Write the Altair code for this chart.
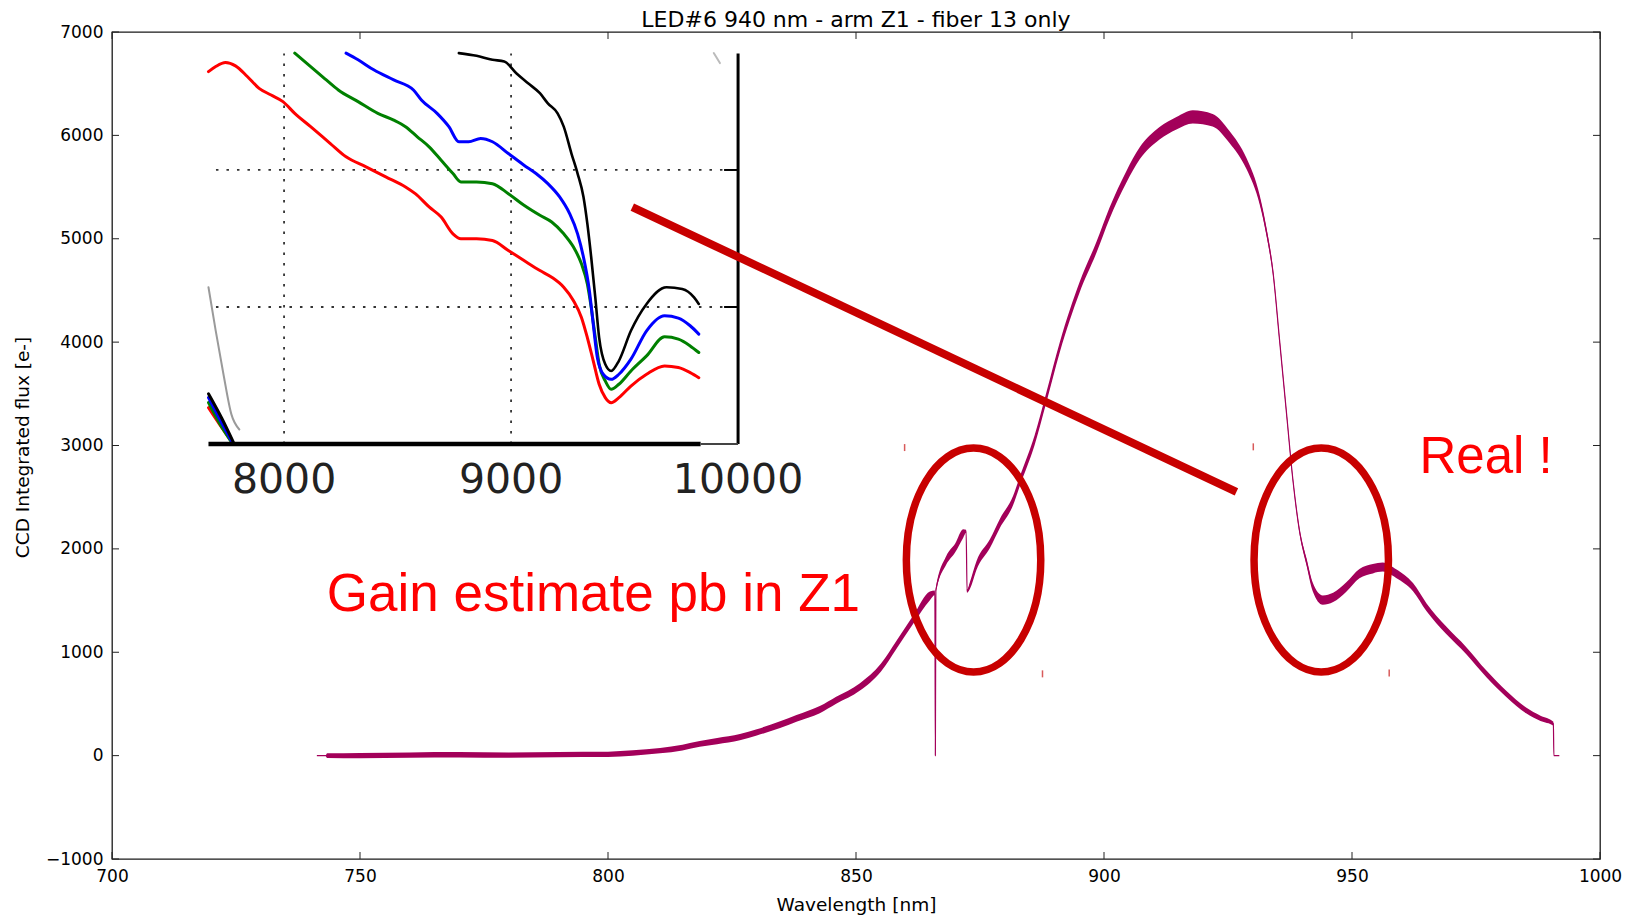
import altair as alt
import pandas as pd

TITLE = "LED#6 940 nm - arm Z1 - fiber 13 only"
X_TITLE = "Wavelength [nm]"
Y_TITLE = "CCD Integrated flux [e-]"

# ---------------- main spectrum ----------------
spec_nm = [741.3, 743.0, 743.4, 750, 760, 770, 780, 790, 800, 805,
           810.5, 815, 818.5, 822, 826.6, 830, 834.7, 838, 842.7, 846,
           850.8, 855, 858.2, 861.6, 864.9, 865.9, 866.0, 866.1, 868.2, 870,
           871.6, 872.2, 872.4, 873, 874.3, 877, 879, 881.7, 883, 886,
           888.4, 891.1, 895.1, 898.5, 901.1, 904.5, 907.2, 911.2, 914.6, 917.9,
           921.9, 925.3, 928.7, 931.4, 932.7, 934.1, 935.4, 936.8, 938.1, 939.5,
           940.8, 942.1, 944.1, 946.2, 948.8, 951.5, 954.2, 956.2, 958.9, 962.3,
           965, 969, 973, 977.1, 981.1, 985.1, 988, 990.6, 990.7, 991.8]
spec_flux = [0, 0, 0, 0, 5, 8, 5, 10, 12, 25,
             48, 78, 113, 140, 178, 225, 300, 360, 445, 535,
             665, 850, 1075, 1320, 1545, 1575, 0, 1600, 1890, 2010,
             2148, 2170, 1590, 1650, 1840, 2050, 2246, 2471, 2650, 3050,
             3469, 3953, 4533, 4920, 5246, 5598, 5826, 6020, 6117, 6179,
             6147, 5985, 5730, 5373, 5082, 4666, 4017, 3311, 2662, 2150,
             1880, 1630, 1505, 1530, 1629, 1760, 1808, 1824, 1760, 1630,
             1437, 1212, 1018, 791, 598, 437, 360, 308, 0, 0]
spec_noise = [0, 0, 22, 26, 26, 26, 26, 26, 26, 26,
              26, 28, 28, 30, 30, 30, 32, 32, 34, 34,
              36, 38, 38, 40, 42, 22, 0, 22, 42, 42,
              42, 15, 15, 34, 42, 42, 44, 45, 45, 47,
              49, 49, 51, 53, 54, 56, 58, 60, 60, 64,
              60, 58, 53, 45, 38, 30, 22, 22, 22, 26,
              34, 42, 45, 45, 45, 45, 45, 44, 42, 39,
              38, 36, 34, 32, 30, 28, 26, 19, 0, 0]

x_ticks = [700, 750, 800, 850, 900, 950, 1000]
y_ticks = [-1000, 0, 1000, 2000, 3000, 4000, 5000, 6000, 7000]

# ---------------- inset (its own units: Angstrom, arbitrary flux) ----------------
red_aa = [7667, 7699, 7742, 7786, 7838, 7890, 7943, 7995, 8047, 8117,
          8204, 8273, 8361, 8448, 8535, 8578, 8639, 8692, 8744, 8779,
          8848, 8918, 8988, 9057, 9127, 9179, 9232, 9275, 9310, 9336,
          9362, 9388, 9415, 9441, 9475, 9528, 9597, 9676, 9737, 9789, 9827]
red_v = [2.718, 2.755, 2.784, 2.760, 2.682, 2.596, 2.547, 2.499, 2.413, 2.316,
         2.193, 2.096, 2.023, 1.949, 1.876, 1.827, 1.730, 1.656, 1.534, 1.498,
         1.498, 1.485, 1.412, 1.339, 1.266, 1.217, 1.144, 1.046, 0.924, 0.777,
         0.607, 0.436, 0.338, 0.301, 0.338, 0.423, 0.509, 0.570, 0.558, 0.521, 0.484]
green_aa = [8047, 8117, 8186, 8239, 8326, 8413, 8483, 8535, 8587, 8639,
            8692, 8744, 8779, 8848, 8918, 8988, 9057, 9127, 9179, 9232,
            9275, 9310, 9336, 9353, 9371, 9388, 9415, 9441, 9475, 9528,
            9597, 9676, 9737, 9789, 9827]
green_v = [2.853, 2.755, 2.657, 2.584, 2.499, 2.413, 2.364, 2.316, 2.242, 2.169,
           2.071, 1.974, 1.913, 1.913, 1.900, 1.827, 1.742, 1.669, 1.620, 1.534,
           1.437, 1.315, 1.168, 0.997, 0.777, 0.582, 0.460, 0.399, 0.436, 0.533,
           0.643, 0.782, 0.765, 0.716, 0.668]
blue_aa = [8273, 8326, 8395, 8483, 8570, 8605, 8674, 8726, 8770, 8813,
           8866, 8918, 8988, 9057, 9110, 9162, 9214, 9258, 9293, 9319,
           9345, 9362, 9380, 9406, 9441, 9475, 9528, 9597, 9676, 9737,
           9789, 9827]
blue_v = [2.853, 2.804, 2.731, 2.657, 2.584, 2.511, 2.413, 2.316, 2.206, 2.206,
          2.230, 2.206, 2.120, 2.035, 1.974, 1.900, 1.803, 1.681, 1.534, 1.363,
          1.119, 0.875, 0.631, 0.509, 0.472, 0.509, 0.619, 0.826, 0.936, 0.919,
          0.863, 0.802]
black_aa = [8770, 8848, 8918, 8970, 9023, 9075, 9127, 9162, 9205, 9232,
            9266, 9293, 9319, 9336, 9353, 9371, 9388, 9415, 9441, 9475,
            9528, 9597, 9685, 9754, 9806, 9827]
black_v = [2.853, 2.833, 2.804, 2.792, 2.706, 2.633, 2.560, 2.486, 2.413, 2.316,
           2.120, 1.974, 1.803, 1.608, 1.363, 1.070, 0.777, 0.582, 0.533, 0.607,
           0.826, 1.022, 1.144, 1.131, 1.070, 1.022]
grey_aa = [7667, 7699, 7733, 7768, 7803]
grey_v = [1.144, 0.826, 0.509, 0.216, 0.106]
grey2_aa = [9893, 9920]
grey2_v = [2.853, 2.78]
stub_black_aa = [7667, 7725, 7777]
stub_black_v = [0.367, 0.19, 0.012]
stub_blue_aa = [7667, 7720, 7772]
stub_blue_v = [0.338, 0.17, 0.01]
stub_green_aa = [7667, 7716, 7770]
stub_green_v = [0.302, 0.15, 0.01]
stub_red_aa = [7667, 7716, 7768]
stub_red_v = [0.265, 0.143, 0.021]

inset_labels = [8000, 9000, 10000]
inset_grid_aa = [8000, 9000]
inset_grid_v = [1, 2]
inset_left, inset_right, inset_top = 7667, 10000, 2.85
inset_axis_break = 9835

# ---------------- annotations ----------------
arrow_nm = [804.9, 926.7]
arrow_flux = [5307, 2551]
ellipse_nm = [873.7, 943.8]
ellipse_flux = [1892, 1892]
mark_nm = [859.8, 930.1, 887.6, 957.5]
mark_flux = [2980, 2987, 791, 800]
note_text = ["Gain estimate pb in Z1", "Real !"]
note_nm = [743.3, 963.6]
note_flux = [1398, 2730]
note_size = [53, 51]

# ---------------- styling ----------------
W, H = 1488, 827
FONT = "DejaVu Sans"
SPEC = "#a3005a"
DARKRED = "#c80000"
TICK = "#222222"
ELLIPSE = "M -0.6 0 A 0.6 1 0 1 0 0.6 0 A 0.6 1 0 1 0 -0.6 0 Z"

mx_scale = alt.Scale(domain=[700, 1000], nice=False, zero=False)
my_scale = alt.Scale(domain=[-1000, 7000], nice=False, zero=False)

x_axis = alt.Axis(values=x_ticks, format="d", ticks=False, domain=False, grid=False,
                  labelFont=FONT, labelFontSize=17, labelColor="black", labelPadding=9,
                  labelFlush=False, labelOverlap=False,
                  titleFont=FONT, titleFontSize=18.5, titleFontWeight="normal",
                  titleColor="black", titleX=W / 2, titleY=45,
                  titleAlign="center", titleBaseline="middle")
y_axis = alt.Axis(values=y_ticks, format="d", ticks=False, domain=False, grid=False,
                  labelFont=FONT, labelFontSize=17, labelColor="black", labelPadding=9,
                  labelFlush=False, labelOverlap=False,
                  titleFont=FONT, titleFontSize=18.5, titleFontWeight="normal",
                  titleColor="black", titleX=-90, titleY=415, titleAngle=270,
                  titleAlign="center", titleBaseline="middle")


def mx(f):
    return alt.X(f, scale=mx_scale, axis=x_axis, title=X_TITLE)


def my(f):
    return alt.Y(f, scale=my_scale, axis=y_axis, title=Y_TITLE)


spec_df = pd.DataFrame({"nm": spec_nm, "flux": spec_flux, "noise": spec_noise})

band = alt.Chart(spec_df).transform_calculate(
    lo="datum.flux - datum.noise", hi="datum.flux + datum.noise"
).mark_area(color=SPEC, opacity=1, interpolate="monotone").encode(
    x=mx("nm:Q"), y=my("lo:Q"), y2=alt.Y2("hi:Q"))
line = alt.Chart(spec_df).mark_line(color=SPEC, strokeWidth=1.2, interpolate="monotone").encode(
    x=mx("nm:Q"), y=my("flux:Q"))

xt = pd.DataFrame({"t": x_ticks})
yt = pd.DataFrame({"t": y_ticks})
tb = alt.Chart(xt).mark_rule(color=TICK, strokeWidth=1).encode(
    x=mx("t:Q"), y=alt.value(H), y2=alt.value(H - 7))
tt = alt.Chart(xt).mark_rule(color=TICK, strokeWidth=1).encode(
    x=mx("t:Q"), y=alt.value(0), y2=alt.value(7))
tl = alt.Chart(yt).mark_rule(color=TICK, strokeWidth=1).encode(
    y=my("t:Q"), x=alt.value(0), x2=alt.value(7))
tr = alt.Chart(yt).mark_rule(color=TICK, strokeWidth=1).encode(
    y=my("t:Q"), x=alt.value(W), x2=alt.value(W - 7))

main = alt.layer(band, line, tb, tt, tl, tr)

# ---------------- inset layer ----------------
isx = alt.Scale(domain=[7242, 13797], nice=False, zero=False)
isy = alt.Scale(domain=[-3.029, 3.007], nice=False, zero=False)


def ix(f):
    return alt.X(f, scale=isx, axis=None)


def iy(f):
    return alt.Y(f, scale=isy, axis=None)


segments = [
    ("grey", grey_aa, grey_v, "#9a9a9a", 2.0),
    ("grey2", grey2_aa, grey2_v, "#bbbbbb", 2.0),
    ("red", red_aa, red_v, "#ff0000", 3.0),
    ("green", green_aa, green_v, "#008000", 3.0),
    ("blue", blue_aa, blue_v, "#0000ff", 3.0),
    ("black", black_aa, black_v, "#000000", 2.6),
    ("sred", stub_red_aa, stub_red_v, "#ff0000", 3.0),
    ("sgreen", stub_green_aa, stub_green_v, "#008000", 3.0),
    ("sblue", stub_blue_aa, stub_blue_v, "#0000ff", 3.0),
    ("sblack", stub_black_aa, stub_black_v, "#000000", 3.0),
]
rows = []
for name, xs, vs, col, w in segments:
    for i, (a, v) in enumerate(zip(xs, vs)):
        rows.append({"seg": name, "aa": a, "v": v, "col": col, "w": w, "i": i})
curves_df = pd.DataFrame(rows)

gv = alt.Chart(pd.DataFrame({"aa": inset_grid_aa, "lo": 0, "hi": inset_top})).mark_rule(
    color="#333333", strokeWidth=1.8, strokeDash=[2.5, 8]).encode(
    x=ix("aa:Q"), y=iy("lo:Q"), y2=alt.Y2("hi:Q"))
gh = alt.Chart(pd.DataFrame({"v": inset_grid_v, "a1": inset_left + 33, "a2": inset_right})).mark_rule(
    color="#333333", strokeWidth=1.8, strokeDash=[2.5, 8]).encode(
    y=iy("v:Q"), x=ix("a1:Q"), x2=alt.X2("a2:Q"))
curves = alt.Chart(curves_df).mark_line(strokeJoin="round", strokeCap="round",
                                        interpolate="monotone").encode(
    x=ix("aa:Q"), y=iy("v:Q"),
    color=alt.Color("col:N", scale=None),
    strokeWidth=alt.StrokeWidth("w:Q", scale=None),
    detail="seg:N", order="i:Q")
rframe = alt.Chart(pd.DataFrame({"aa": [inset_right], "lo": [0], "hi": [inset_top]})).mark_rule(
    color="black", strokeWidth=3).encode(x=ix("aa:Q"), y=iy("lo:Q"), y2=alt.Y2("hi:Q"))
rticks = alt.Chart(pd.DataFrame({"aa": inset_right, "v": inset_grid_v})).mark_rule(
    color="black", strokeWidth=2, x2Offset=-14).encode(
    x=ix("aa:Q"), x2=alt.X2("aa:Q"), y=iy("v:Q"))
baxis = alt.Chart(pd.DataFrame({
    "a1": [inset_left, inset_axis_break], "a2": [inset_axis_break, inset_right],
    "v": [0, 0], "w": [4.5, 2.0], "c": ["#000000", "#444444"]})).mark_rule().encode(
    x=ix("a1:Q"), x2=alt.X2("a2:Q"), y=iy("v:Q"),
    color=alt.Color("c:N", scale=None), strokeWidth=alt.StrokeWidth("w:Q", scale=None))
ilabels = alt.Chart(pd.DataFrame({"aa": inset_labels, "lab": [str(v) for v in inset_labels]})).mark_text(
    font=FONT, fontSize=41, color="#222222", align="center", baseline="middle").encode(
    x=ix("aa:Q"), y=alt.value(449), text="lab:N")

inset = alt.layer(gv, gh, curves, rframe, rticks, baxis, ilabels)

# ---------------- annotation layer ----------------


def ax(f):
    return alt.X(f, scale=mx_scale, axis=None)


def ay(f):
    return alt.Y(f, scale=my_scale, axis=None)


arrow = alt.Chart(pd.DataFrame({"x1": [arrow_nm[0]], "y1": [arrow_flux[0]],
                                "x2": [arrow_nm[1]], "y2": [arrow_flux[1]]})).mark_rule(
    color=DARKRED, strokeWidth=8).encode(
    x=ax("x1:Q"), y=ay("y1:Q"), x2=alt.X2("x2:Q"), y2=alt.Y2("y2:Q"))
ellipses = alt.Chart(pd.DataFrame({"nm": ellipse_nm, "flux": ellipse_flux})).mark_point(
    shape=ELLIPSE, filled=False, size=50176, strokeWidth=7.5, color=DARKRED, opacity=1).encode(
    x=ax("nm:Q"), y=ay("flux:Q"))
marks = alt.Chart(pd.DataFrame({"nm": mark_nm, "flux": mark_flux})).mark_rule(
    color="#d85a5a", strokeWidth=1.5, yOffset=-3.5, y2Offset=3.5).encode(
    x=ax("nm:Q"), y=ay("flux:Q"), y2=alt.Y2("flux:Q"))
notes = alt.Chart(pd.DataFrame({"t": note_text, "nm": note_nm, "flux": note_flux, "fs": note_size})).mark_text(
    align="left", baseline="alphabetic", font="Liberation Sans", color="#ff0000").encode(
    x=ax("nm:Q"), y=ay("flux:Q"), text="t:N", size=alt.Size("fs:Q", scale=None))
title_mark = alt.Chart(pd.DataFrame({"t": [TITLE]})).mark_text(
    align="center", baseline="alphabetic", font=FONT, fontSize=22, color="black").encode(
    x=alt.value(W / 2), y=alt.value(-4.7), text="t:N")

ann = alt.layer(arrow, ellipses, marks, notes, title_mark)

chart = alt.layer(main, inset, ann).resolve_scale(
    x="independent", y="independent"
).properties(
    width=W, height=H,
    padding={"left": 104, "top": 24, "right": 24, "bottom": 60},
    autosize=alt.AutoSizeParams(type="none"),
).configure_view(stroke="#1a1a1a", strokeWidth=1.3)

chart.save("out.html", embed_options={"renderer": "svg", "actions": False})
